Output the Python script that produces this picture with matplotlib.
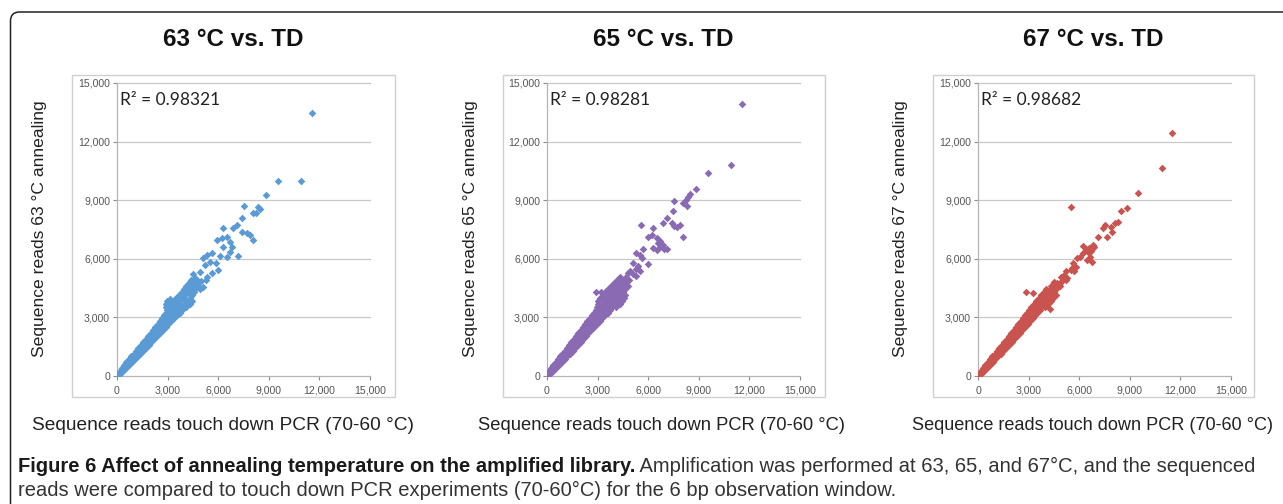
import numpy as np
import matplotlib
matplotlib.use("Agg")
import matplotlib.pyplot as plt
from matplotlib.patches import FancyBboxPatch, Rectangle

W, H = 1283, 504

# ---- datos (lecturas x = touch down, y = recocido) ----
titles = ["63 °C vs. TD", "65 °C vs. TD", "67 °C vs. TD"]
ylabels = ["Sequence reads 63 °C annealing",
           "Sequence reads 65 °C annealing",
           "Sequence reads 67 °C annealing"]
xlabel = "Sequence reads touch down PCR (70-60 °C)"
r2_values = ["0.98321", "0.98281", "0.98682"]
colors = ["#5b9bd5", "#8a6bb3", "#c9534f"]
tick_vals = [0, 3000, 6000, 9000, 12000, 15000]
tick_labels = ["0", "3,000", "6,000", "9,000", "12,000", "15,000"]

band_63 = [
    (40, 100), (160, 100), (160, 250), (360, 250),
    (280, 400), (410, 400), (540, 400), (420, 550), (570, 550), (720, 550),
    (550, 700), (720, 700), (890, 700), (700, 850), (880, 850), (1060, 850),
    (840, 1000), (1030, 1000), (1220, 1000), (990, 1150), (1190, 1150), (1390, 1150),
    (1130, 1300), (1340, 1300), (1550, 1300), (1270, 1450), (1490, 1450), (1710, 1450),
    (1420, 1600), (1650, 1600), (1880, 1600), (1560, 1750), (1800, 1750), (2040, 1750),
    (1700, 1900), (1950, 1900), (2200, 1900), (1850, 2050), (2110, 2050), (2370, 2050),
    (2000, 2200), (2270, 2200), (2540, 2200), (2130, 2350), (2420, 2350), (2710, 2350),
    (2270, 2500), (2500, 2500), (2700, 2500), (2880, 2500),
    (2410, 2650), (2650, 2650), (2850, 2650), (3050, 2650),
    (2540, 2800), (2780, 2800), (3000, 2800), (3230, 2800),
    (2680, 2950), (2920, 2950), (3160, 2950), (3400, 2950),
    (2800, 3100), (3060, 3100), (3320, 3100), (3580, 3100),
    (2900, 3250), (3180, 3250), (3450, 3250), (3720, 3250),
    (2950, 3400), (3250, 3400), (3550, 3400), (3850, 3400),
    (2900, 3550), (3200, 3550), (3500, 3550), (3800, 3550), (4100, 3550),
    (2900, 3700), (3250, 3700), (3600, 3700), (3950, 3700), (4300, 3700),
    (2950, 3850), (3300, 3850), (3700, 3850), (4100, 3850), (4450, 3850),
    (3500, 4000), (3900, 4000), (4300, 4000), (3700, 4150), (4050, 4150), (4450, 4150),
    (3850, 4300), (4200, 4300), (4550, 4300),
    (3950, 4450), (4300, 4450), (4650, 4450), (4900, 4450),
    (4100, 4600), (4450, 4600), (4800, 4600), (4250, 4750), (4600, 4750),
    (4400, 4900), (4750, 4900),
    # filas intermedias de la zona densa
    (3050, 3020), (3300, 3180), (3080, 3320), (3400, 3480), (3050, 3620),
    (3420, 3780), (3800, 3930), (3650, 4080), (4000, 4230), (4150, 4380),
    (4300, 4530), (4400, 4680), (2800, 3000), (3700, 3700), (3150, 3930),
]
outer_63 = [
    (11543, 13447), (10910, 9999), (9527, 9999), (8834, 9282), (7549, 8702),
    (8379, 8668), (8479, 8532), (8044, 8327), (8241, 8361), (7391, 8071),
    (7134, 7730), (6897, 7560), (6304, 7560), (7391, 7389), (7687, 7304),
    (7885, 7219), (8044, 6962), (6502, 7133), (6206, 7048), (5909, 6962),
    (6700, 6875), (6799, 6620), (6700, 6364), (7193, 6143), (6502, 6108),
    (6265, 6620), (5613, 6279), (5316, 6193), (5119, 6024), (6107, 6143),
    (5514, 5852), (5870, 5766), (5218, 5682), (6007, 5426), (4921, 5340),
    (5613, 5255), (5316, 5084), (4625, 4999), (4800, 4700), (5000, 4850),
    (5300, 4900), (4500, 5200), (4350, 4800), (5100, 4550),
]

band_65 = [
    (40, 100), (150, 100), (130, 250), (350, 250),
    (250, 400), (400, 400), (550, 400), (380, 550), (550, 550), (720, 550),
    (510, 700), (700, 700), (890, 700), (640, 850), (840, 850), (1040, 850),
    (780, 1000), (990, 1000), (1200, 1000), (910, 1150), (1140, 1150), (1370, 1150),
    (1050, 1300), (1290, 1300), (1530, 1300), (1180, 1450), (1430, 1450), (1680, 1450),
    (1320, 1600), (1580, 1600), (1840, 1600), (1450, 1750), (1720, 1750), (1990, 1750),
    (1590, 1900), (1870, 1900), (2150, 1900), (1720, 2050), (2010, 2050), (2300, 2050),
    (1860, 2200), (2160, 2200), (2460, 2200), (1990, 2350), (2300, 2350), (2610, 2350),
    (2120, 2500), (2350, 2500), (2580, 2500), (2800, 2500),
    (2250, 2650), (2490, 2650), (2730, 2650), (2960, 2650),
    (2380, 2800), (2630, 2800), (2880, 2800), (3120, 2800),
    (2520, 2950), (2780, 2950), (3030, 2950), (3280, 2950),
    (2650, 3100), (2920, 3100), (3180, 3100), (3440, 3100),
    (2780, 3250), (3060, 3250), (3330, 3250), (3600, 3250),
    (2880, 3400), (3170, 3400), (3460, 3400), (3750, 3400),
    (2950, 3550), (3250, 3550), (3550, 3550), (3850, 3550), (4100, 3550),
    (3000, 3700), (3300, 3700), (3650, 3700), (4000, 3700), (4300, 3700),
    (3050, 3850), (3400, 3850), (3750, 3850), (4100, 3850), (4450, 3850),
    (3150, 4000), (3500, 4000), (3850, 4000), (4200, 4000), (4550, 4000),
    (3300, 4150), (3650, 4150), (4000, 4150), (4350, 4150), (4600, 4150),
    (2900, 4300), (3200, 4300), (3450, 4300), (3800, 4300), (4150, 4300), (4500, 4300),
    (3600, 4450), (3950, 4450), (4300, 4450), (4650, 4450),
    (3800, 4600), (4150, 4600), (4500, 4600), (4800, 4600),
    (3950, 4750), (4300, 4750), (4650, 4750),
    (4150, 4900), (4500, 4900), (4850, 4900), (4350, 5050), (4700, 5050),
    (2900, 3030), (3150, 3180), (3300, 3330), (3050, 3480), (3400, 3630),
    (3550, 3780), (3250, 3930), (3650, 4080), (3950, 4230), (4100, 4380),
    (4450, 4530), (4000, 4680),
]
outer_65 = [
    (11543, 13908), (10910, 10801), (9527, 10375), (8834, 9573), (8479, 9317),
    (8379, 9180), (8241, 9010), (7549, 8958), (8044, 8839), (8320, 8702),
    (7450, 8463), (7095, 8105), (6897, 7816), (7390, 7850), (7550, 7700),
    (7700, 7640), (7885, 7750), (6304, 7594), (5554, 7730), (6008, 7133),
    (6200, 7200), (6500, 7050), (6700, 6900), (6600, 6800), (6900, 6700),
    (8044, 7133), (6700, 6600), (6500, 6450), (6950, 6500), (6300, 6550),
    (7100, 6480), (5711, 6501), (5300, 6300), (5500, 6200), (5650, 6050),
    (6008, 5717), (5100, 5800), (5250, 5500), (5400, 5650), (5500, 5350),
    (4900, 5400), (5100, 5200), (5300, 5100), (4800, 5250),
]

band_67 = [
    (50, 100), (150, 100), (160, 250), (330, 250),
    (290, 400), (420, 400), (540, 400), (430, 550), (570, 550), (710, 550),
    (570, 700), (720, 700), (870, 700), (710, 850), (870, 850), (1030, 850),
    (850, 1000), (1020, 1000), (1190, 1000), (990, 1150), (1170, 1150), (1350, 1150),
    (1130, 1300), (1320, 1300), (1510, 1300), (1270, 1450), (1470, 1450), (1670, 1450),
    (1410, 1600), (1620, 1600), (1830, 1600), (1550, 1750), (1770, 1750), (1990, 1750),
    (1690, 1900), (1920, 1900), (2150, 1900), (1830, 2050), (2070, 2050), (2310, 2050),
    (1970, 2200), (2220, 2200), (2470, 2200), (2110, 2350), (2370, 2350), (2630, 2350),
    (2250, 2500), (2520, 2500), (2790, 2500), (2390, 2650), (2670, 2650), (2950, 2650),
    (2530, 2800), (2820, 2800), (3110, 2800), (2650, 2950), (2950, 2950), (3250, 2950),
    (2780, 3100), (3080, 3100), (3380, 3100), (2900, 3250), (3200, 3250), (3500, 3250),
    (3050, 3400), (3350, 3400), (3650, 3400),
    (3150, 3550), (3450, 3550), (3750, 3550), (4000, 3550),
    (3300, 3700), (3600, 3700), (3900, 3700), (4150, 3700),
    (3450, 3850), (3750, 3850), (4050, 3850), (4300, 3850),
    (3600, 4000), (3900, 4000), (4200, 4000), (4450, 4000),
    (3750, 4150), (4050, 4150), (4350, 4150), (4600, 4150),
    (3900, 4300), (4200, 4300), (4500, 4300), (4050, 4450), (4350, 4450), (4650, 4450),
    (4300, 4600), (4600, 4600), (4850, 4600),
    (2866, 4316), (3260, 4230), (4250, 3413),
    (3000, 3180), (3200, 3480), (3550, 3630), (3700, 3930), (4000, 4230),
    (4450, 4530), (4700, 4750), (4500, 4800),
]
outer_67 = [
    (11521, 12424), (10890, 10665), (9468, 9385), (5494, 8634), (8815, 8583),
    (8479, 8463), (8320, 7900), (8123, 7850), (7885, 7645), (7530, 7730),
    (7391, 7560), (7628, 7133), (7925, 7389), (7134, 7133), (6800, 6700),
    (6600, 6550), (6400, 6500), (6700, 6400), (6500, 6350), (6200, 6300),
    (6850, 6620), (6250, 6680), (5850, 6024), (6440, 5940), (6740, 5850),
    (6050, 6110), (6650, 6110), (5652, 5766), (5800, 5600), (5500, 5450),
    (5200, 5350), (5700, 5350), (5100, 5150), (4900, 5050), (5300, 5000),
    (5000, 4850), (4850, 4750), (5200, 4900), (5600, 5550),
]

panels = [band_63 + outer_63, band_65 + outer_65, band_67 + outer_67]

# ---- posiciones en pixeles de la figura ----
plot_left = [117, 547, 978]
plot_top, plot_bottom, plot_w = 83, 376, 253
chart_box = [(72, 395), (503, 825), (933, 1254)]
title_x = [233, 663, 1093]
ylabel_x = [40, 470, 900]
xlabel_x = [223, 662, 1093]
xlabel_size = [13.8, 13.2, 13.1]

sans = ["Liberation Sans", "DejaVu Sans"]
plt.rcParams["font.family"] = sans

fig = plt.figure(figsize=(W / 100, H / 100), dpi=100)
fig.patch.set_facecolor("white")

# borde redondeado exterior
fig.patches.append(FancyBboxPatch((10.5, -30), 1320, 504 - 12 + 30,
                                  boxstyle="round,pad=0,rounding_size=9",
                                  transform=None, fill=False,
                                  edgecolor="#222222", linewidth=1.1))

for i in range(3):
    x0, x1 = chart_box[i]
    fig.patches.append(Rectangle((x0 / W, 1 - 397 / H), (x1 - x0) / W, (397 - 75) / H,
                                 transform=fig.transFigure, fill=False,
                                 edgecolor="#d0d0d0", linewidth=1.0))

    ax = fig.add_axes([plot_left[i] / W, 1 - plot_bottom / H,
                       plot_w / W, (plot_bottom - plot_top) / H])
    pts = np.array(panels[i])
    ax.scatter(pts[:, 0], pts[:, 1], marker="D", s=15, color=colors[i],
               linewidths=0, zorder=3)
    ax.set_xlim(0, 15000)
    ax.set_ylim(0, 15000)
    ax.set_xticks(tick_vals)
    ax.set_xticklabels(tick_labels)
    ax.set_yticks(tick_vals)
    ax.set_yticklabels(tick_labels)
    ax.tick_params(axis="both", labelsize=7.6, colors="#8c8c8c", labelcolor="#555555",
                   length=3, width=0.8)
    ax.tick_params(axis="x", pad=4)
    ax.tick_params(axis="y", pad=2)
    for s in ["top", "right"]:
        ax.spines[s].set_visible(False)
    for s in ["left", "bottom"]:
        ax.spines[s].set_color("#b5b5b5")
        ax.spines[s].set_linewidth(0.9)
    for v in tick_vals[1:]:
        ax.axhline(v, color="#c8c8c8", linewidth=0.9, zorder=1, clip_on=False)
    ax.text(0.012, 0.942, "R² = " + r2_values[i], transform=ax.transAxes,
            ha="left", va="center", fontsize=12.5, family=["Lato", "DejaVu Sans"],
            color="#222222")

    fig.text(title_x[i] / W, 1 - 40 / H, titles[i], ha="center", va="center",
             fontsize=17.5, fontweight="bold", color="#111111")
    fig.text(ylabel_x[i] / W, 1 - 229 / H, ylabels[i], rotation=90,
             ha="center", va="center", fontsize=12.6, color="#222222")
    fig.text(xlabel_x[i] / W, 1 - 425 / H, xlabel, ha="center", va="center",
             fontsize=xlabel_size[i], color="#222222")

# leyenda de la figura
cap_font = ["Liberation Sans", "DejaVu Sans"]
cap_bold = "Figure 6 Affect of annealing temperature on the amplified library."
cap_rest = " Amplification was performed at 63, 65, and 67°C, and the sequenced"
cap_line2 = "reads were compared to touch down PCR experiments (70-60°C) for the 6 bp observation window."
t1 = fig.text(18 / W, 1 - 472 / H, cap_bold, ha="left", va="baseline",
              fontsize=14.5, fontweight="bold", family=cap_font, color="#1a1a1a")
fig.canvas.draw()
bb = t1.get_window_extent()
fig.text(bb.x1 / W, 1 - 472 / H, cap_rest, ha="left", va="baseline",
         fontsize=14.5, family=cap_font, color="#333333")
fig.text(18 / W, 1 - 496 / H, cap_line2, ha="left", va="baseline",
         fontsize=14.5, family=cap_font, color="#333333")

fig.savefig("out.png", dpi=100)
